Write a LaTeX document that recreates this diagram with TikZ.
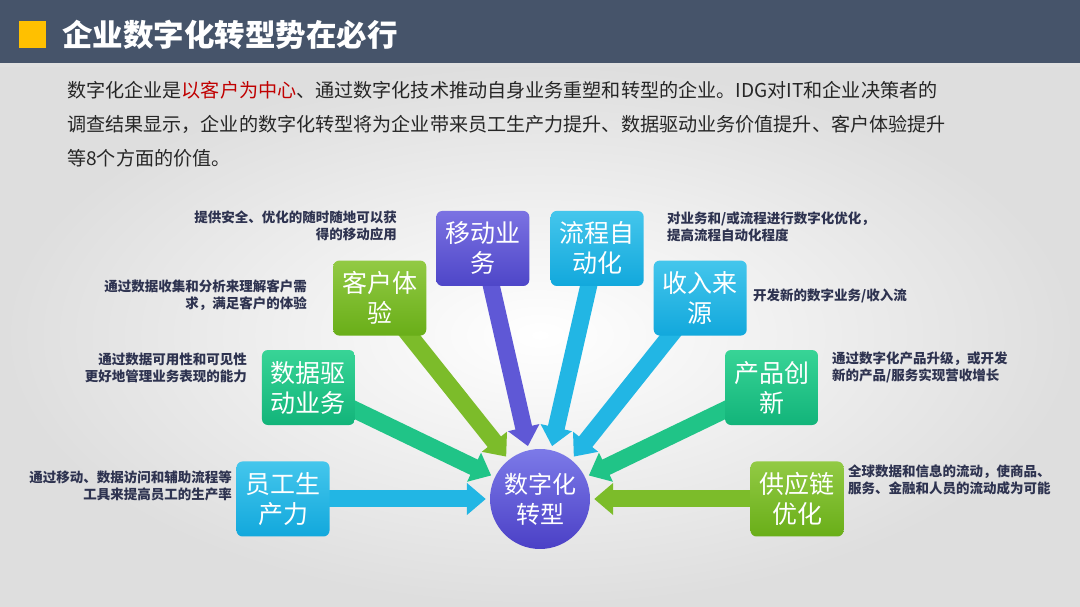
\documentclass[tikz,border=0pt]{standalone}
\usepackage{fontspec}
\setmainfont{Noto Sans CJK SC}
\usepackage{xcolor}
\usepackage{tikz}
\usetikzlibrary{positioning,arrows.meta,calc,backgrounds}

\definecolor{barslate}{HTML}{46546A}
\definecolor{markyellow}{HTML}{FFC000}
\definecolor{textred}{HTML}{C00000}
\definecolor{bodygray}{HTML}{262626}
\definecolor{descnavy}{HTML}{2E3350}
\definecolor{purpleT}{HTML}{7B72E2}
\definecolor{purpleB}{HTML}{4E46C8}
\definecolor{purpleM}{HTML}{5F58D6}
\definecolor{cyanT}{HTML}{44C6EC}
\definecolor{cyanB}{HTML}{12A8DC}
\definecolor{cyanM}{HTML}{22B6E4}
\definecolor{greenT}{HTML}{92CA44}
\definecolor{greenB}{HTML}{69AE18}
\definecolor{greenM}{HTML}{7CBC2A}
\definecolor{tealT}{HTML}{38D496}
\definecolor{tealB}{HTML}{12B47A}
\definecolor{tealM}{HTML}{20C487}
\definecolor{coreT}{HTML}{7C7AE8}
\definecolor{coreB}{HTML}{4B40C6}

\begin{document}
\begin{tikzpicture}[
    x=1pt, y=1pt,
    box/.style={rounded corners=6pt, minimum width=93pt, minimum height=75pt, align=center, text=white, inner sep=0pt, font=\fontsize{25}{30}\selectfont},
    desc/.style={inner sep=0pt, text=descnavy, font=\bfseries\fontsize{13.5}{17}\selectfont},
    arr/.style={line width=17pt, -{Triangle[width=31pt,length=19pt]}, shorten >=4pt}
  ]
    \useasboundingbox (0,0) rectangle (1080,607);
    \begin{scope}[on background layer]
      \shade[inner color=white, outer color=black!13] (0,0) rectangle (1080,544);
      \fill[barslate] (0,544) rectangle (1080,607);
      \fill[black!12] (0,540) rectangle (1080,544);
    \end{scope}

    % title
    \node[fill=markyellow, minimum size=27pt, inner sep=0pt] (mark) at (32.5,572.5) {};
    \node[right=16pt of mark, inner sep=0pt, text=white, font=\bfseries\fontsize{30.5}{31}\selectfont] (title) {企业数字化转型势在必行};
    \node[anchor=north west, align=left, inner sep=0pt, text=bodygray, font=\fontsize{19.1}{34}\selectfont] (intro) at (67,526)
      {数字化企业是{\color{textred}以客户为中心}、通过数字化技术推动自身业务重塑和转型的企业。IDG对IT和企业决策者的\\
       调查结果显示，企业的数字化转型将为企业带来员工生产力提升、数据驱动业务价值提升、客户体验提升\\
       等8个方面的价值。};

    % centre and the eight values
    \node[circle, minimum size=100pt, inner sep=0pt, top color=coreT, bottom color=coreB, text=white, align=center, font=\fontsize{24}{30}\selectfont] (core) at (540,108) {数字化\\转型};
    \node[box, top color=greenT, bottom color=greenB] (supply) at ($(core)+(0:257)$) {供应链\\优化};
    \node[box, top color=tealT, bottom color=tealB] (prod) at ($(core)+(25.71:257)$) {产品创\\新};
    \node[box, top color=cyanT, bottom color=cyanB] (rev) at ($(core)+(51.43:257)$) {收入来\\源};
    \node[box, top color=cyanT, bottom color=cyanB] (proc) at ($(core)+(77.14:257)$) {流程自\\动化};
    \node[box, top color=purpleT, bottom color=purpleB] (mob) at ($(core)+(102.86:257)$) {移动业\\务};
    \node[box, top color=greenT, bottom color=greenB] (cust) at ($(core)+(128.57:257)$) {客户体\\验};
    \node[box, top color=tealT, bottom color=tealB] (data) at ($(core)+(154.29:257)$) {数据驱\\动业务};
    \node[box, top color=cyanT, bottom color=cyanB] (emp) at ($(core)+(180:257)$) {员工生\\产力};

    % descriptions
    \node[desc, anchor=north east, align=right] (mobtxt) at (397,396) {提供安全、优化的随时随地可以获\\得的移动应用};
    \node[desc, anchor=north east, align=right] (custtxt) at (307,327) {通过数据收集和分析来理解客户需\\求，满足客户的体验};
    \node[desc, anchor=north east, align=right] (datatxt) at (247,254) {通过数据可用性和可见性\\更好地管理业务表现的能力};
    \node[desc, anchor=north east, align=right] (emptxt) at (232,136) {通过移动、数据访问和辅助流程等\\工具来提高员工的生产率};
    \node[desc, anchor=north west, align=left] (proctxt) at (667,395) {对业务和/或流程进行数字化优化，\\提高流程自动化程度};
    \node[desc, anchor=west] (revtxt) at (753,311) {开发新的数字业务/收入流};
    \node[desc, anchor=north west, align=left] (prodtxt) at (832,255) {通过数字化产品升级，或开发\\新的产品/服务实现营收增长};
    \node[desc, anchor=north west, align=left] (supplytxt) at (848,142) {全球数据和信息的流动，使商品、\\服务、金融和人员的流动成为可能};

    \begin{scope}[on background layer]
      \draw[arr, greenM] (supply.center) -- (core);
      \draw[arr, tealM] (prod.center) -- (core);
      \draw[arr, cyanM] (rev.center) -- (core);
      \draw[arr, cyanM] (proc.center) -- (core);
      \draw[arr, purpleM] (mob.center) -- (core);
      \draw[arr, greenM] (cust.center) -- (core);
      \draw[arr, tealM] (data.center) -- (core);
      \draw[arr, cyanM] (emp.center) -- (core);
    \end{scope}
  \end{tikzpicture}
\end{document}
